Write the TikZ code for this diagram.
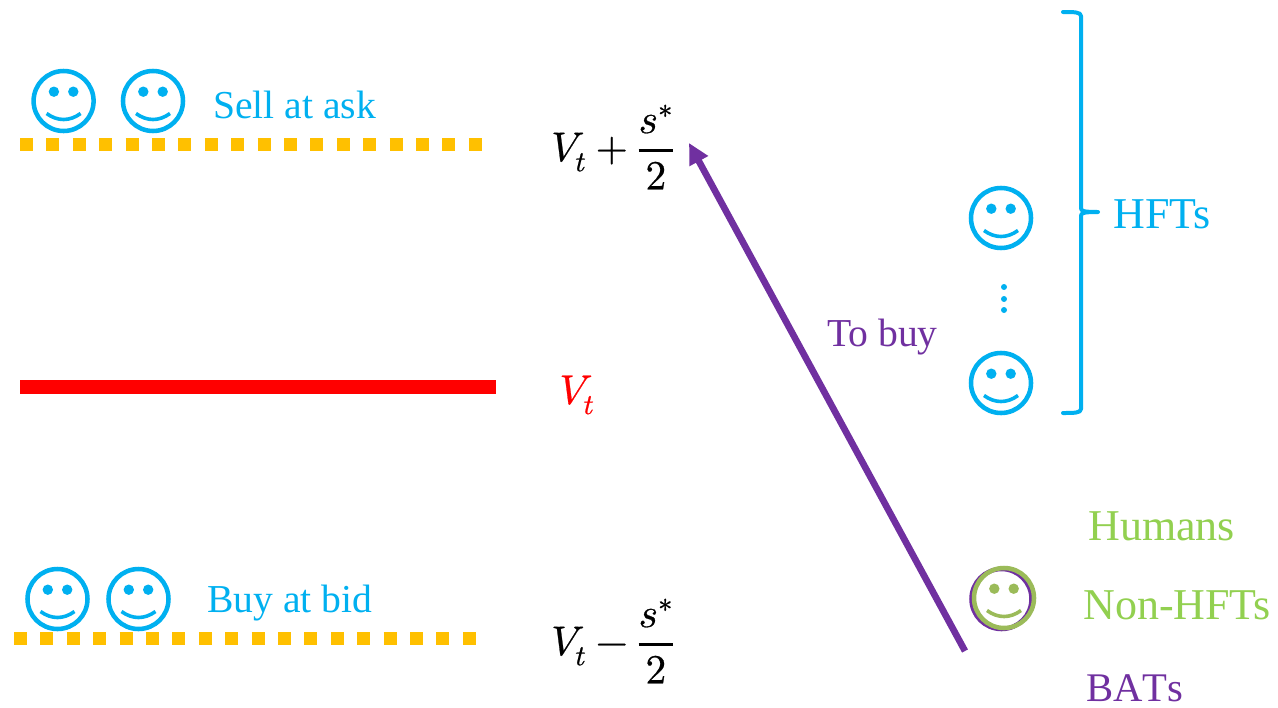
\documentclass[tikz,border=0pt]{standalone}
\usepackage{amsmath}
\usepackage{fontspec}
\usepackage{unicode-math}
\setmainfont{Liberation Serif}
\setmathfont[FakeBold=0.6]{Latin Modern Math}
\usetikzlibrary{arrows.meta}
\definecolor{hftblue}{HTML}{00B0F0}
\definecolor{quotegold}{HTML}{FFC000}
\definecolor{humangreen}{HTML}{92D050}
\definecolor{faceolive}{HTML}{9BBB59}
\definecolor{batpurple}{HTML}{7030A0}
\tikzset{
  facering/.style={circle, draw=#1, line width=3.4pt, minimum size=45pt, inner sep=0pt, outer sep=0pt},
  smiley/.pic={
    \node[facering=#1] (-ring) {};
    \fill[#1] (-9.7,-9.3) circle (5.2) (9.7,-9.3) circle (5.2);
    \draw[#1, line width=2.7pt] (-17,12.5) .. controls (-6,20.5) and (6,20.5) .. (17,12.5);
  },
  quoteline/.style={quotegold, line width=9.75pt, dash pattern=on 9.75pt off 10.05pt},
  label/.style={anchor=base west, inner sep=0pt, font=\fontsize{29.7}{36}\selectfont},
  biglabel/.style={label, font=\fontsize{33}{38}\selectfont},
  batlabel/.style={label, font=\fontsize{30.5}{36}\selectfont\addfontfeatures{Kerning=Off}},
  valuelabel/.style={inner sep=0pt, font=\fontsize{31}{36}\selectfont}
}
\begin{document}
\begin{tikzpicture}[x=0.75pt, y=-0.75pt]
  \useasboundingbox (0,0) rectangle (1278,707);

  % price levels
  \coordinate (askstart) at (20,144);
  \coordinate (askend) at (483,144);
  \coordinate (midstart) at (20,387);
  \coordinate (midend) at (496,387);
  \coordinate (bidstart) at (14,638);
  \coordinate (bidend) at (477,638);
  \draw[quoteline] (askstart) -- (askend);
  \draw[red, line width=10.5pt] (midstart) -- (midend);
  \draw[quoteline] (bidstart) -- (bidend);

  \node[valuelabel] (askvalue) at (613,147) {$\displaystyle V_t+\genfrac{}{}{2.6pt}{0}{s^*}{2}$};
  \node[valuelabel, text=red] (midvalue) at (577,395) {$V_t$};
  \node[valuelabel] (bidvalue) at (613,641) {$\displaystyle V_t-\genfrac{}{}{2.6pt}{0}{s^*}{2}$};

  % quoting traders
  \pic (askone) at (63.6,101) {smiley=hftblue};
  \pic (asktwo) at (153,101) {smiley=hftblue};
  \pic (bidone) at (57.5,599) {smiley=hftblue};
  \pic (bidtwo) at (138.5,599) {smiley=hftblue};
  \node[label, text=hftblue] (sellask) at (213,118) {Sell at ask};
  \node[label, text=hftblue] (buybid) at (207,612) {Buy at bid};

  % HFTs
  \pic (hfttop) at (1001,218) {smiley=hftblue};
  \pic (hftbottom) at (1001,383) {smiley=hftblue};
  \foreach \y in {287,299,310}
    \fill[hftblue] (1004,\y) circle (3);
  \coordinate (bracetop) at (1063,12);
  \coordinate (bracetip) at (1098,212);
  \coordinate (bracebottom) at (1063,413);
  \draw[hftblue, line width=3pt, line cap=round, line join=round]
    (bracetop) .. controls (1074,12) and (1081,12) .. (1081,16) -- (1081,208)
    .. controls (1081,211) and (1083,212) .. (bracetip)
    .. controls (1083,212) and (1081,213) .. (1081,216) -- (1081,409)
    .. controls (1081,413) and (1074,413) .. (bracebottom);
  \node[biglabel, text=hftblue] (hftlabel) at (1113,228) {HFTs};

  % incoming trader
  \node[facering=batpurple] (batface) at (1001.5,599) {};
  \pic (humanface) at (1004,598) {smiley=faceolive};
  \node[biglabel, text=humangreen] (humans) at (1088,540) {Humans};
  \node[biglabel, text=humangreen] (nonhft) at (1083,619) {Non-HFTs};
  \node[batlabel, text=batpurple] (bats) at (1086,701) {BATs};

  \coordinate (buystart) at (965,651);
  \coordinate (buyend) at (689,143);
  \draw[-{Triangle[length=15.5pt, width=15pt]}, batpurple, line width=5pt] (buystart) -- (buyend);
  \node[label, text=batpurple] (tobuy) at (827,346) {To buy};
\end{tikzpicture}
\end{document}
